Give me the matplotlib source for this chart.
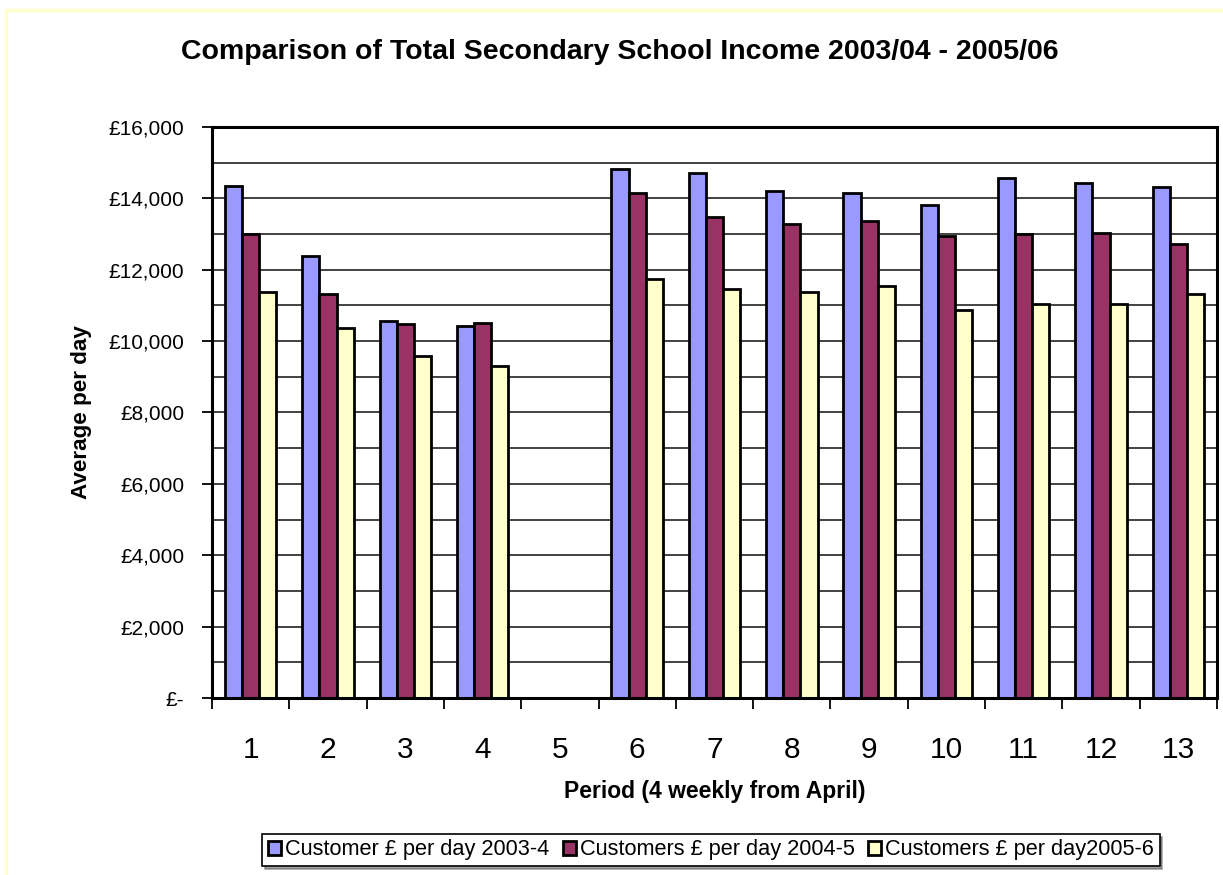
import numpy as np
import matplotlib.pyplot as plt
from matplotlib.patches import Rectangle
from matplotlib.ticker import FuncFormatter, MultipleLocator

periods = ["1", "2", "3", "4", "5", "6", "7", "8", "9", "10", "11", "12", "13"]
series_names = ["Customer £ per day 2003-4",
                "Customers £ per day 2004-5",
                "Customers £ per day2005-6"]
income_0304 = [14360, 12380, 10550, 10420, np.nan, 14810, 14700, 14210, 14150, 13810, 14560, 14430, 14310]
income_0405 = [12990, 11310, 10490, 10500, np.nan, 14140, 13490, 13270, 13360, 12940, 12990, 13030, 12720]
income_0506 = [11380, 10370, 9590, 9290, np.nan, 11730, 11460, 11370, 11540, 10860, 11040, 11040, 11310]
colours = ["#9999FF", "#993366", "#FFFFCC"]

plt.rcParams['font.family'] = ['Liberation Sans', 'DejaVu Sans']

fig = plt.figure(figsize=(12.23, 8.75), dpi=100)
fig.patches.append(Rectangle((6 / 1223, -0.01), 1.1, 1 - 10 / 875 + 0.01,
                             transform=fig.transFigure, fill=False,
                             edgecolor="#FFFFCC", lw=2.5))
ax = fig.add_axes([212 / 1223, 177 / 875, 1005 / 1223, 571 / 875])

x = np.arange(len(periods))
w = 1 / 4.5
for k, (vals, name, col) in enumerate(zip([income_0304, income_0405, income_0506], series_names, colours)):
    ax.bar(x + (k - 1) * w, vals, w, color=col, edgecolor="black", lw=2,
           label=name, zorder=3)

ax.set_xlim(-0.5, len(periods) - 0.5)
ax.set_ylim(0, 16000)
ax.yaxis.set_major_locator(MultipleLocator(2000))
ax.yaxis.set_minor_locator(MultipleLocator(1000))
ax.grid(axis="y", which="both", color="#222222", lw=1.2, zorder=0)
ax.yaxis.set_major_formatter(FuncFormatter(lambda v, p: "£-" if v == 0 else "£{:,.0f}".format(v)))
ax.tick_params(axis="y", which="major", length=7, width=1.3, pad=13, labelsize=15)
ax.tick_params(axis="y", which="minor", length=0)

ax.set_xticks(np.arange(len(periods) + 1) - 0.5)
ax.set_xticklabels([])
ax.set_xticks(x, minor=True)
ax.set_xticklabels(periods, minor=True)
ax.tick_params(axis="x", which="major", length=8, width=1.3)
ax.tick_params(axis="x", which="minor", length=0, pad=27, labelsize=21.5)

for s in ax.spines.values():
    s.set_linewidth(2.2)
    s.set_zorder(4)

ax.set_ylabel("Average per day", fontsize=16.2, fontweight="bold", labelpad=12)
ax.set_xlabel("Period (4 weekly from April)", fontsize=16.5, fontweight="bold", labelpad=12)
fig.text(0.507, 0.941, "Comparison of Total Secondary School Income 2003/04 - 2005/06",
         ha="center", va="center", fontsize=20.5, fontweight="bold")

leg = fig.legend(loc="center", bbox_to_anchor=(711 / 1223, 1 - 850 / 875), ncol=3,
                 fontsize=15.7, frameon=True, fancybox=False, shadow=True,
                 handlelength=0.6, handleheight=0.6, handletextpad=0.2,
                 columnspacing=0.6, borderpad=0.25, borderaxespad=0)
leg.get_frame().set_edgecolor("black")
leg.get_frame().set_linewidth(1.2)

plt.savefig("out.png", dpi=100)
